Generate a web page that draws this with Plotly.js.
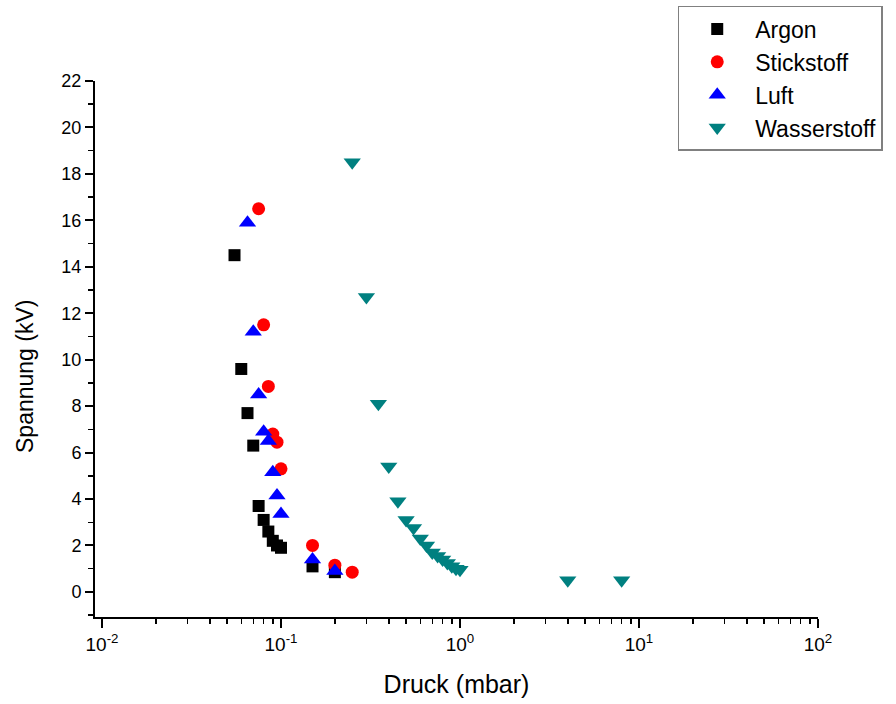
<!DOCTYPE html>
<html>
<head>
<meta charset="utf-8">
<script src="https://cdn.plot.ly/plotly-3.0.1.min.js"></script>
<style>body{margin:0;background:#fff;}#chart{width:896px;height:704px;}</style>
</head>
<body>
<div id="chart"></div>
<script>
// Data (pressure in mbar, voltage in kV)
const argonX = [0.055, 0.06, 0.065, 0.07, 0.075, 0.08, 0.085, 0.09, 0.095, 0.1, 0.15, 0.2];
const argonY = [14.5, 9.6, 7.7, 6.3, 3.7, 3.1, 2.6, 2.2, 2.0, 1.9, 1.1, 0.85];

const stickX = [0.075, 0.08, 0.085, 0.09, 0.095, 0.1, 0.15, 0.2, 0.25];
const stickY = [16.5, 11.5, 8.85, 6.8, 6.45, 5.3, 2.0, 1.15, 0.85];

const luftX = [0.065, 0.07, 0.075, 0.08, 0.085, 0.09, 0.095, 0.1, 0.15, 0.2];
const luftY = [15.9, 11.2, 8.5, 6.9, 6.5, 5.15, 4.15, 3.35, 1.4, 0.9];

const wasserX = [0.25, 0.3, 0.35, 0.4, 0.45, 0.5, 0.55, 0.6, 0.65, 0.7, 0.75, 0.8, 0.85, 0.9, 0.95, 1.0, 4, 8];
const wasserY = [18.5, 12.7, 8.1, 5.4, 3.9, 3.1, 2.75, 2.3, 2.0, 1.7, 1.55, 1.4, 1.25, 1.1, 1.0, 0.95, 0.5, 0.5];

const xTickVals = [0.01, 0.1, 1, 10, 100];
const xTickText = ['10<sup>-2</sup>', '10<sup>-1</sup>', '10<sup>0</sup>', '10<sup>1</sup>', '10<sup>2</sup>'];

const xTitle = 'Druck (mbar)';
const yTitle = 'Spannung (kV)';

const xMinorVals = [];
[0.01, 0.1, 1, 10].forEach(d => { for (let k = 2; k <= 9; k++) xMinorVals.push(d * k); });

const FONT = 'Arial, "Liberation Sans", sans-serif';

const traces = [
  {x: argonX, y: argonY, name: 'Argon', mode: 'markers', type: 'scatter',
   marker: {symbol: 'square', size: 12, color: '#000000'}},
  {x: stickX, y: stickY, name: 'Stickstoff', mode: 'markers', type: 'scatter',
   marker: {symbol: 'circle', size: 13, color: '#ff0000'}},
  {x: luftX, y: luftY, name: 'Luft', mode: 'markers', type: 'scatter',
   marker: {symbol: 'triangle-up', size: 15, color: '#0000ff'}},
  {x: wasserX, y: wasserY, name: 'Wasserstoff', mode: 'markers', type: 'scatter',
   marker: {symbol: 'triangle-down', size: 15, color: '#008080'}}
];

const layout = {
  width: 896, height: 704,
  paper_bgcolor: '#ffffff', plot_bgcolor: '#ffffff',
  margin: {l: 95, r: 78, t: 81, b: 87, autoexpand: false},
  font: {family: FONT, color: '#000000', size: 18},
  showlegend: true,
  legend: {
    x: 0.806, y: 1.14, xanchor: 'left', yanchor: 'top',
    bgcolor: '#ffffff', bordercolor: '#808080', borderwidth: 1.5,
    font: {family: FONT, size: 23, color: '#000000'},
    itemwidth: 66
  },
  xaxis: {
    type: 'log', range: [-2.039, 2],
    tickmode: 'array', tickvals: xTickVals, ticktext: xTickText,
    ticks: 'outside', ticklen: 9, tickwidth: 2, tickcolor: '#000',
    minor: {tickmode: 'array', tickvals: xMinorVals, ticks: 'outside', ticklen: 5, tickwidth: 1.5, tickcolor: '#000', showgrid: false},
    showline: true, linecolor: '#000', linewidth: 2,
    showgrid: false, zeroline: false, mirror: false,
    tickfont: {family: FONT, size: 19},
    title: {text: xTitle, font: {family: FONT, size: 25}, standoff: 22}
  },
  yaxis: {
    range: [-1.08, 22], tickmode: 'linear', tick0: 0, dtick: 2,
    ticks: 'outside', ticklen: 8, tickwidth: 2, tickcolor: '#000',
    minor: {dtick: 1, tick0: 0, ticks: 'outside', ticklen: 5, tickwidth: 1.5, tickcolor: '#000', showgrid: false},
    showline: true, linecolor: '#000', linewidth: 2,
    showgrid: false, zeroline: false, mirror: false,
    tickfont: {family: FONT, size: 18}
  },
  annotations: [{
    text: yTitle, textangle: -90, showarrow: false,
    xref: 'paper', yref: 'paper', x: -0.0968, y: 0.4478,
    xanchor: 'center', yanchor: 'middle',
    font: {family: FONT, size: 23, color: '#000'}
  }]
};

Plotly.newPlot('chart', traces, layout, {displayModeBar: false, staticPlot: true});
</script>
</body>
</html>
